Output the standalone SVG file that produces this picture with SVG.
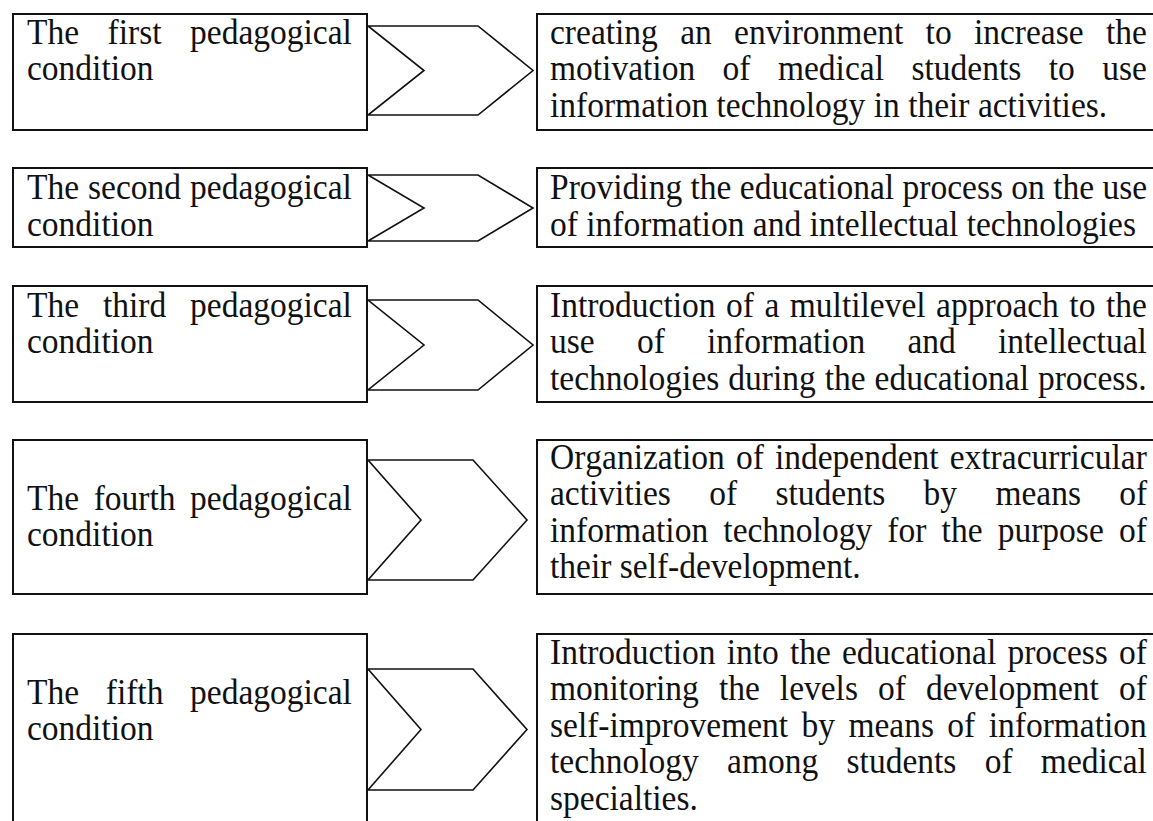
<svg xmlns="http://www.w3.org/2000/svg" width="1153" height="821" viewBox="0 0 1153 821">
<style>
.box{fill:#fff;stroke:#111;stroke-width:2}
.chev{fill:#fff;stroke:#111;stroke-width:1.6;stroke-linejoin:miter}
text{font-family:"Liberation Serif","Times New Roman",serif;font-size:33.5px;fill:#111;font-kerning:none;font-variant-ligatures:none}
</style>
<rect width="1153" height="821" fill="#fff"/>
<g id="connectors">
<polygon class="chev" points="368,26 478,26 533,70.5 478,115 368,115 424,70.5"/>
<polygon class="chev" points="368,175 478,175 533,208 478,241 368,241 424,208"/>
<polygon class="chev" points="368,300 478,300 533,345 478,390 368,390 424,345"/>
<polygon class="chev" points="368,460 473,460 527,520 473,580 368,580 421,520"/>
<polygon class="chev" points="368,669 473,669 527,729.5 473,790 368,790 421,729.5"/>
</g>
<g id="cond1">
<rect class="box" x="13" y="14" width="354" height="116"/>
<text x="27" y="44" transform="matrix(1 0 0 1.08 0 -3.52)" style="word-spacing:20.15px">The first pedagogical</text>
<text x="27" y="80.5" transform="matrix(1 0 0 1.08 0 -6.44)">condition</text>
</g>
<g id="desc1">
<rect class="box" x="537" y="14" width="630" height="116"/>
<text x="550" y="44" transform="matrix(1 0 0 1.08 0 -3.52)" style="word-spacing:13.9px">creating an environment to increase the</text>
<text x="550" y="80.5" transform="matrix(1 0 0 1.08 0 -6.44)" style="word-spacing:19.09px">motivation of medical students to use</text>
<text x="550" y="117" transform="matrix(1 0 0 1.08 0 -9.36)">information technology in their activities.</text>
</g>
<g id="cond2">
<rect class="box" x="13" y="168" width="354" height="79"/>
<text x="27" y="199" transform="matrix(1 0 0 1.08 0 -15.92)" style="word-spacing:0.62px">The second pedagogical</text>
<text x="27" y="236" transform="matrix(1 0 0 1.08 0 -18.88)">condition</text>
</g>
<g id="desc2">
<rect class="box" x="537" y="168" width="630" height="79"/>
<text x="550" y="199" transform="matrix(1 0 0 1.08 0 -15.92)">Providing the educational process on the use</text>
<text x="550" y="236" transform="matrix(1 0 0 1.08 0 -18.88)">of information and intellectual technologies</text>
</g>
<g id="cond3">
<rect class="box" x="13" y="286" width="354" height="116"/>
<text x="27" y="317" transform="matrix(1 0 0 1.08 0 -25.36)" style="word-spacing:15.49px">The third pedagogical</text>
<text x="27" y="353.5" transform="matrix(1 0 0 1.08 0 -28.28)">condition</text>
</g>
<g id="desc3">
<rect class="box" x="537" y="286" width="630" height="116"/>
<text x="550" y="317" transform="matrix(1 0 0 1.08 0 -25.36)" style="word-spacing:2.12px">Introduction of a multilevel approach to the</text>
<text x="550" y="353.5" transform="matrix(1 0 0 1.08 0 -28.28)" style="word-spacing:33.87px">use of information and intellectual</text>
<text x="550" y="390" transform="matrix(1 0 0 1.08 0 -31.2)" style="word-spacing:0.6px">technologies during the educational process.</text>
</g>
<g id="cond4">
<rect class="box" x="13" y="440" width="354" height="154"/>
<text x="27" y="510" transform="matrix(1 0 0 1.08 0 -40.8)" style="word-spacing:6.2px">The fourth pedagogical</text>
<text x="27" y="546.5" transform="matrix(1 0 0 1.08 0 -43.72)">condition</text>
</g>
<g id="desc4">
<rect class="box" x="537" y="440" width="630" height="154"/>
<text x="550" y="469" transform="matrix(1 0 0 1.08 0 -37.52)" style="word-spacing:2.71px">Organization of independent extracurricular</text>
<text x="550" y="505.5" transform="matrix(1 0 0 1.08 0 -40.44)" style="word-spacing:29.96px">activities of students by means of</text>
<text x="550" y="542" transform="matrix(1 0 0 1.08 0 -43.36)" style="word-spacing:6.82px">information technology for the purpose of</text>
<text x="550" y="578.5" transform="matrix(1 0 0 1.08 0 -46.28)">their self-development.</text>
</g>
<g id="cond5">
<rect class="box" x="13" y="634" width="354" height="200"/>
<text x="27" y="704" transform="matrix(1 0 0 1.08 0 -56.32)" style="word-spacing:18.29px">The fifth pedagogical</text>
<text x="27" y="740.5" transform="matrix(1 0 0 1.08 0 -59.24)">condition</text>
</g>
<g id="desc5">
<rect class="box" x="537" y="634" width="630" height="200"/>
<text x="550" y="664" transform="matrix(1 0 0 1.08 0 -53.12)" style="word-spacing:2.73px">Introduction into the educational process of</text>
<text x="550" y="700.5" transform="matrix(1 0 0 1.08 0 -56.04)" style="word-spacing:11.65px">monitoring the levels of development of</text>
<text x="550" y="737" transform="matrix(1 0 0 1.08 0 -58.96)" style="word-spacing:5.03px">self-improvement by means of information</text>
<text x="550" y="773.5" transform="matrix(1 0 0 1.08 0 -61.88)" style="word-spacing:19.92px">technology among students of medical</text>
<text x="550" y="810" transform="matrix(1 0 0 1.08 0 -64.8)">specialties.</text>
</g>
</svg>
